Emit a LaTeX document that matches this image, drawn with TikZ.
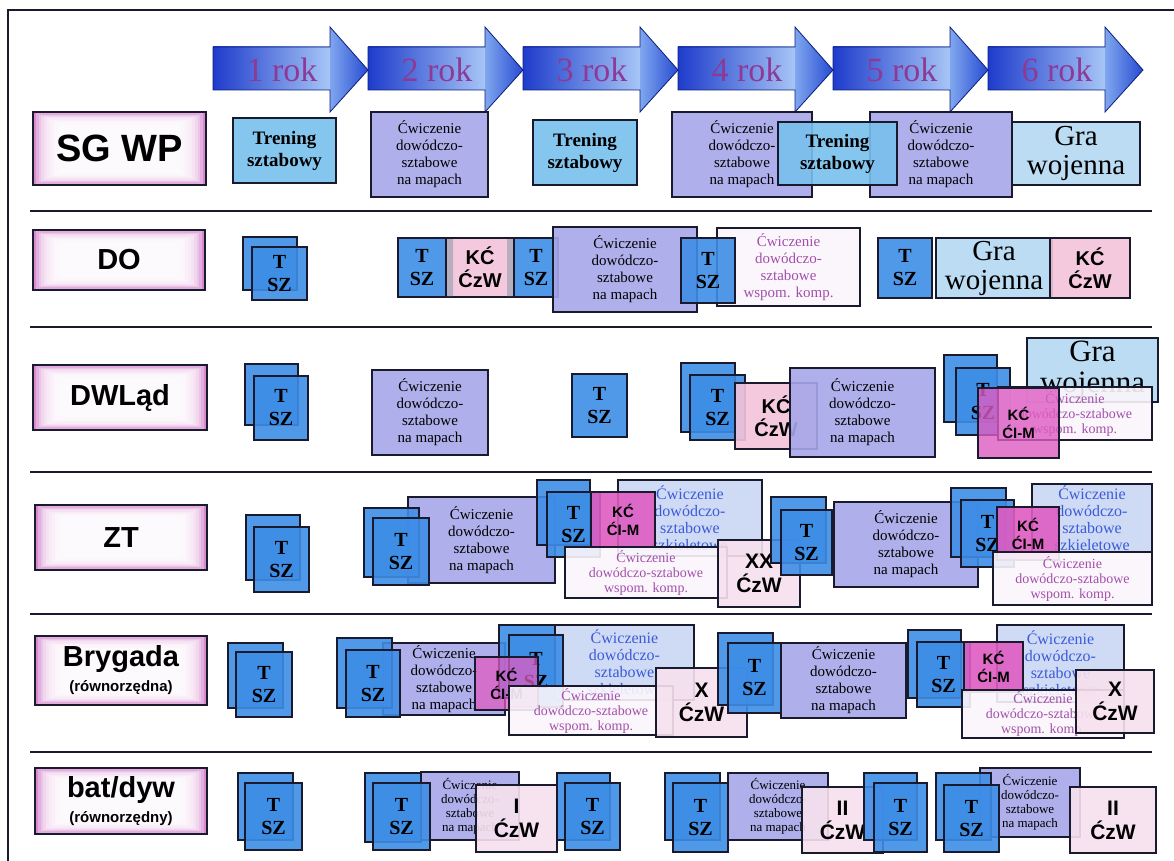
\documentclass[tikz,border=0pt]{standalone}
\usepackage{fontspec}
\setmainfont{Liberation Serif}
\setsansfont{Liberation Sans}
\usetikzlibrary{calc}

\definecolor{arrDark}{HTML}{1E3CCB}
\definecolor{arrLight}{HTML}{D6EBFF}
\definecolor{arrMid}{HTML}{3A6FE2}
\definecolor{arrEdge}{HTML}{0B1E7A}
\definecolor{yearText}{HTML}{8E3A95}
\definecolor{labPink}{HTML}{D88AD0}
\definecolor{trenBlue}{HTML}{78C0EE}
\definecolor{lav}{HTML}{A7A7EA}
\definecolor{tszBlue}{HTML}{3E8DE6}
\definecolor{kcPink}{HTML}{F5C4DA}
\definecolor{kcGrey}{HTML}{A8A8B8}
\definecolor{kcMag}{HTML}{DE5CC2}
\definecolor{graBlue}{HTML}{B4D9F2}
\definecolor{szkFill}{HTML}{CAD8F4}
\definecolor{szkText}{HTML}{3C5AD8}
\definecolor{wspFill}{HTML}{FBF6FB}
\definecolor{wspText}{HTML}{A24FAA}
\definecolor{czwFill}{HTML}{F7E1EE}
\definecolor{edge}{HTML}{1A1A2E}

\tikzset{
  box/.style={draw=edge, line width=1.2pt, inner sep=0pt, outer sep=0pt, align=center,
              fill opacity=0.9, text opacity=1},
  tren/.style={box, fill=trenBlue, font=\bfseries\fontsize{19}{22}\selectfont},
  cw/.style={box, fill=lav, font=\fontsize{15}{17}\selectfont},
  cwsm/.style={box, fill=lav, font=\fontsize{13}{14}\selectfont},
  tsz/.style={box, fill=tszBlue, font=\bfseries\fontsize{20}{23}\selectfont},
  kc/.style={box, fill=kcPink, font=\sffamily\bfseries\fontsize{20}{23}\selectfont},
  kcm/.style={box, fill=kcMag, font=\sffamily\bfseries\fontsize{15}{18}\selectfont},
  gra/.style={box, fill=graBlue, font=\fontsize{29}{29}\selectfont},
  wsp/.style={box, fill=wspFill, text=wspText, font=\fontsize{14}{15}\selectfont},
  szk/.style={box, fill=szkFill, text=szkText, font=\fontsize{16}{17}\selectfont},
  czw/.style={box, fill=czwFill, font=\sffamily\bfseries\fontsize{21}{24}\selectfont},
  lab/.style={draw=edge, line width=1.6pt, inner sep=0pt, outer sep=0pt, align=center,
              font=\sffamily\bfseries\fontsize{29}{31}\selectfont},
  yeartext/.style={text=yearText, font=\fontsize{34}{34}\selectfont, inner sep=0pt},
  sep/.style={draw=edge, line width=1.6pt},
}

% box from corner (#3,#4) to corner (#5,#6)
\newcommand\bx[7]{%
  \pgfmathsetmacro\bxw{#5-#3}%
  \pgfmathsetmacro\bxh{#6-#4}%
  \node[#2, minimum width=\bxw pt, minimum height=\bxh pt] (#1) at ({(#3+#5)/2},{(#4+#6)/2}) {#7};}

% row label: pink card fading to white towards its middle
\newcommand\labbox[7][]{%
  \fill[labPink] (#3,#4) rectangle (#5,#6);
  \foreach \k in {1,...,10}
    \fill[white, fill opacity=0.3] (#3+\k*2.8,#4+\k*1.3) rectangle (#5-\k*2.8,#6-\k*1.3);
  \bx{#2}{lab,#1}{#3}{#4}{#5}{#6}{#7}}

% year arrow starting at x=#2
\newcommand\yeararrow[3]{%
  \shade[left color=arrDark, middle color=arrLight, right color=arrLight!70!arrMid] (#2,47) rectangle ++(117,43);
  \shade[left color=arrMid!55!arrLight, right color=arrDark!70!arrMid] (#2+117,27) -- ++(38,43) -- ++(-38,42) -- cycle;
  \draw[arrEdge, line width=0.8pt] (#2,47) -- ++(117,0) -- ++(0,-20) -- ++(38,43) -- ++(-38,42) -- ++(0,-22) -- ++(-117,0) -- cycle;
  \node[yeartext] (#1) at (#2+69,70) {#3};}

\newcommand\cwtext{Ćwiczenie\\dowódczo-\\sztabowe\\na mapach}
\newcommand\szktext{Ćwiczenie\\dowódczo-\\sztabowe\\szkieletowe}
\newcommand\wsptext{Ćwiczenie\\dowódczo-sztabowe\\wspom. komp.}

\begin{document}
\begin{tikzpicture}[x=1pt,y=-1pt]
\useasboundingbox (0,0) rectangle (1174,861);
\fill[white] (0,0) rectangle (1174,861);

% frame and row separators
\draw[edge, line width=1.6pt] (8,861) -- (8,10) -- (1174,10);
\foreach \yy in {211,327,472,614,752} \draw[sep] (30,\yy) -- (1152,\yy);

% years
\yeararrow{yr1}{213}{1 rok}
\yeararrow{yr2}{368}{2 rok}
\yeararrow{yr3}{523}{3 rok}
\yeararrow{yr4}{678}{4 rok}
\yeararrow{yr5}{833}{5 rok}
\yeararrow{yr6}{988}{6 rok}

% ---------- SG WP ----------
\labbox[font=\sffamily\bfseries\fontsize{38}{40}\selectfont]{sgL}{33}{112}{206}{185}{SG WP}
\bx{sgT1}{tren}{233}{118}{336}{183}{Trening\\sztabowy}
\bx{sgC2}{cw}{371}{112}{488}{197}{\cwtext}
\bx{sgT3}{tren}{533}{120}{637}{185}{Trening\\sztabowy}
\bx{sgC4}{cw}{672}{112}{812}{197}{\cwtext}
\bx{sgC5}{cw}{870}{112}{1012}{197}{\cwtext}
\bx{sgT45}{tren}{778}{122}{897}{185}{Trening\\sztabowy}
\bx{sgG6}{gra}{1012}{122}{1140}{185}{Gra\\wojenna}

% ---------- DO ----------
\labbox{doL}{33}{230}{205}{290}{DO}
\bx{doP1b}{tsz}{243}{237}{297}{290}{}
\bx{doP1}{tsz}{252}{247}{307}{300}{T\\SZ}
\bx{doT2}{tsz}{398}{238}{446}{297}{T\\SZ}
\bx{doK2}{kc}{446}{238}{514}{297}{KĆ\\ĆzW}
\fill[kcGrey, opacity=0.8] (447,239) rectangle (453,296) (507,239) rectangle (513,296);
\bx{doT3}{tsz}{514}{238}{558}{297}{T\\SZ}
\bx{doC3}{cw}{553}{227}{697}{312}{\cwtext}
\bx{doW4}{wsp, font=\fontsize{15}{17}\selectfont}{717}{228}{860}{306}{Ćwiczenie\\dowódczo-\\sztabowe\\wspom. komp.}
\bx{doT4}{tsz}{681}{238}{735}{303}{T\\SZ}
\bx{doT5}{tsz}{878}{238}{932}{298}{T\\SZ}
\bx{doG5}{gra}{936}{238}{1052}{298}{Gra\\wojenna}
\bx{doK6}{kc}{1050}{238}{1130}{298}{KĆ\\ĆzW}

% ---------- DWLąd ----------
\labbox{dwL}{33}{365}{207}{430}{DWLąd}
\bx{dwP1b}{tsz}{245}{364}{298}{425}{}
\bx{dwP1}{tsz}{254}{376}{308}{440}{T\\SZ}
\bx{dwC2}{cw}{372}{370}{488}{455}{\cwtext}
\bx{dwT3}{tsz}{572}{374}{627}{437}{T\\SZ}
\bx{dwP4b}{tsz}{681}{363}{735}{432}{}
\bx{dwP4}{tsz}{690}{375}{745}{440}{T\\SZ}
\bx{dwK4}{kc}{735}{383}{817}{449}{KĆ\\ĆzW}
\bx{dwC4}{cw}{790}{368}{935}{457}{\cwtext}
\bx{dwG6}{gra, font=\fontsize{31}{31}\selectfont}{1027}{338}{1158}{402}{Gra\\wojenna}
\bx{dwP6b}{tsz}{944}{355}{997}{422}{}
\bx{dwP6}{tsz}{956}{368}{1010}{435}{T\\SZ}
\bx{dwW6}{wsp}{998}{387}{1152}{440}{\wsptext}
\bx{dwK6}{kcm, fill opacity=0.8}{978}{388}{1059}{458}{KĆ\\ĆI-M}

% ---------- ZT ----------
\labbox{ztL}{35}{505}{207}{570}{ZT}
\bx{ztP1b}{tsz}{246}{515}{300}{580}{}
\bx{ztP1}{tsz}{254}{527}{309}{592}{T\\SZ}
\bx{ztC2}{cw}{408}{497}{555}{583}{\cwtext}
\bx{ztP2b}{tsz}{364}{508}{419}{577}{}
\bx{ztP2}{tsz}{373}{518}{429}{585}{T\\SZ}
\bx{ztS3}{szk}{618}{480}{762}{556}{\szktext}
\bx{ztP3b}{tsz}{537}{480}{590}{545}{}
\bx{ztP3}{tsz}{547}{492}{600}{557}{T\\SZ}
\bx{ztK3}{kcm}{591}{492}{655}{547}{KĆ\\ĆI-M}
\bx{ztW3}{wsp}{565}{547}{727}{598}{\wsptext}
\bx{ztX3}{czw}{718}{540}{800}{607}{XX\\ĆzW}
\bx{ztP4b}{tsz}{771}{497}{826}{563}{}
\bx{ztP4}{tsz}{781}{510}{832}{575}{T\\SZ}
\bx{ztC4}{cw}{834}{502}{978}{587}{\cwtext}
\bx{ztS5}{szk}{1032}{484}{1152}{552}{\szktext}
\bx{ztP5b}{tsz}{951}{488}{1006}{557}{}
\bx{ztP5}{tsz}{961}{500}{1014}{567}{T\\SZ}
\bx{ztK5}{kcm}{997}{507}{1059}{560}{KĆ\\ĆI-M}
\bx{ztW5}{wsp}{993}{552}{1152}{605}{\wsptext}

% ---------- Brygada ----------
\labbox{brL}{35}{636}{207}{705}{Brygada\\[-6pt]{\fontsize{15}{17}\selectfont(równorzędna)}}
\bx{brP1b}{tsz}{228}{643}{283}{708}{}
\bx{brP1}{tsz}{236}{652}{292}{717}{T\\SZ}
\bx{brC2}{cw}{383}{643}{505}{715}{\cwtext}
\bx{brP2b}{tsz}{337}{638}{392}{708}{}
\bx{brP2}{tsz}{346}{650}{400}{717}{T\\SZ}
\bx{brS2}{szk}{555}{625}{694}{700}{\szktext}
\bx{brP3b}{tsz}{499}{625}{555}{698}{}
\bx{brP3}{tsz}{509}{635}{563}{707}{T\\SZ}
\bx{brK2}{kcm, fill opacity=0.75}{475}{657}{538}{710}{KĆ\\ĆI-M}
\bx{brW2}{wsp}{509}{686}{673}{735}{\wsptext}
\bx{brX2}{czw}{656}{668}{747}{737}{X\\ĆzW}
\bx{brP4b}{tsz}{718}{633}{773}{705}{}
\bx{brP4}{tsz}{728}{643}{781}{713}{T\\SZ}
\bx{brC4}{cw}{781}{643}{906}{718}{\cwtext}
\bx{brS5}{szk}{997}{625}{1124}{702}{\szktext}
\bx{brP5b}{tsz}{908}{630}{961}{698}{}
\bx{brP5}{tsz}{917}{642}{970}{707}{T\\SZ}
\bx{brK5}{kcm}{964}{642}{1023}{692}{KĆ\\ĆI-M}
\bx{brW5}{wsp}{962}{690}{1124}{738}{\wsptext}
\bx{brX5}{czw}{1076}{670}{1154}{733}{X\\ĆzW}

% ---------- bat/dyw ----------
\labbox{bdL}{35}{768}{207}{834}{bat/dyw\\[-6pt]{\fontsize{15}{17}\selectfont(równorzędny)}}
\bx{bdP1b}{tsz}{238}{773}{293}{840}{}
\bx{bdP1}{tsz}{245}{783}{302}{850}{T\\SZ}
\bx{bdC2}{cwsm}{421}{772}{519}{840}{\cwtext}
\bx{bdP2b}{tsz}{365}{773}{421}{842}{}
\bx{bdP2}{tsz}{373}{783}{430}{850}{T\\SZ}
\bx{bdI2}{czw}{476}{785}{557}{852}{I\\ĆzW}
\bx{bdP3b}{tsz}{557}{773}{610}{840}{}
\bx{bdP3}{tsz}{565}{783}{620}{850}{T\\SZ}
\bx{bdP4b}{tsz}{665}{773}{720}{840}{}
\bx{bdP4}{tsz}{673}{783}{728}{852}{T\\SZ}
\bx{bdC4}{cwsm}{728}{773}{828}{840}{\cwtext}
\bx{bdII4}{czw}{802}{787}{883}{853}{II\\ĆzW}
\bx{bdP5b}{tsz}{864}{773}{917}{840}{}
\bx{bdP5}{tsz}{874}{783}{927}{852}{T\\SZ}
\bx{bdC6}{cwsm}{980}{768}{1080}{837}{\cwtext}
\bx{bdP6b}{tsz}{936}{773}{991}{840}{}
\bx{bdP6}{tsz}{944}{785}{999}{852}{T\\SZ}
\bx{bdII6}{czw}{1070}{787}{1156}{853}{II\\ĆzW}
\end{tikzpicture}
\end{document}
